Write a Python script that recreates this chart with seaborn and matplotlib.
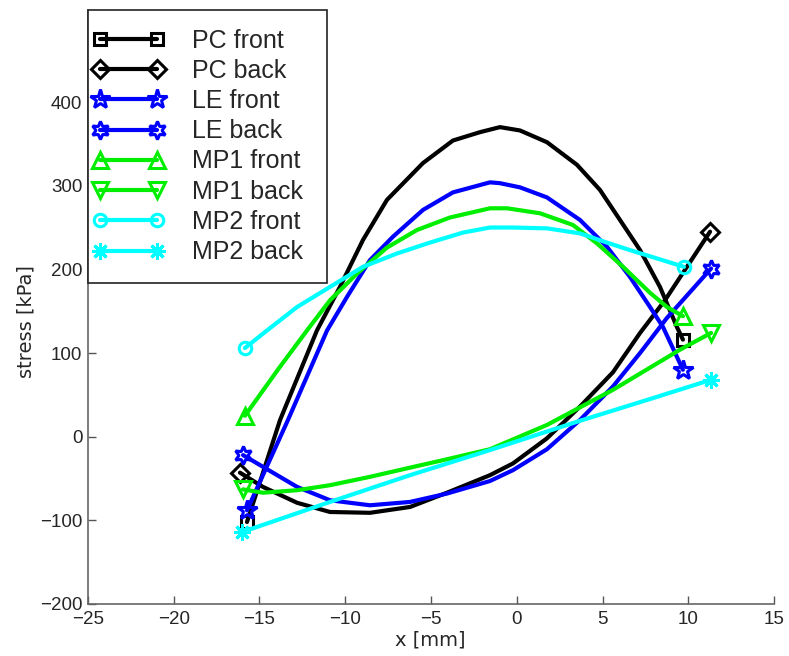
import numpy as np
import pandas as pd
import matplotlib
matplotlib.use("Agg")
import matplotlib.pyplot as plt
import seaborn as sns
from matplotlib.lines import Line2D
from matplotlib.patches import Rectangle

# ---------------- data ----------------
pc_front_x = [-15.73, -13.8, -11.65, -10.31, -8.97, -7.57, -5.47, -3.72, -2.14, -0.98, 0.19, 1.76, 3.51, 4.85, 6.02, 7.19, 8.35, 9.34, 9.69]
pc_front_y = [-102, 20, 127, 179, 235, 283, 327, 354, 364, 370, 366, 352, 325, 295, 259, 223, 179, 131, 116]

pc_back_x = [-16.14, -14.80, -12.81, -10.89, -8.56, -6.22, -4.07, -1.56, -0.22, 1.76, 3.69, 5.61, 7.19, 8.64, 11.27]
pc_back_y = [-43, -60, -79, -90, -91, -84, -67, -46, -32, -2, 36, 77, 124, 163, 245]

le_front_x = [-15.73, -13.34, -11.06, -9.90, -8.56, -7.22, -5.47, -3.72, -1.56, -0.98, 0.19, 1.76, 3.69, 5.26, 6.60, 7.77, 8.53, 9.69]
le_front_y = [-88, 20, 127, 167, 211, 239, 271, 292, 304, 303, 298, 286, 259, 227, 191, 155, 131, 80]

le_back_x = [-15.96, -14.80, -12.81, -10.89, -8.56, -6.22, -4.07, -1.56, -0.22, 1.76, 3.69, 5.61, 7.19, 8.76, 11.33]
le_back_y = [-22, -36, -60, -76, -82, -78, -68, -53, -40, -15, 20, 60, 100, 142, 201]

mp1_front_x = [-15.85, -13.86, -12.23, -10.89, -9.31, -7.57, -5.82, -3.89, -1.56, -0.57, 1.36, 3.28, 4.68, 6.20, 7.77, 8.76, 9.69]
mp1_front_y = [25, 82, 127, 163, 195, 226, 247, 262, 273, 273, 267, 253, 231, 203, 172, 155, 144]

mp1_back_x = [-15.96, -14.80, -12.81, -10.89, -8.56, -6.22, -4.07, -1.56, 1.76, 5.61, 9.52, 11.33]
mp1_back_y = [-63, -67, -64, -58, -48, -37, -27, -15, 14, 56, 104, 124]

mp2_front_x = [-15.85, -14.56, -12.81, -10.89, -8.97, -6.98, -5.06, -3.13, -1.56, -0.22, 1.76, 3.69, 5.26, 6.60, 8.18, 9.75]
mp2_front_y = [106, 127, 155, 179, 203, 219, 232, 244, 250, 250, 249, 243, 232, 223, 213, 203]

mp2_back_x = [-16.02, -10.89, -6.22, -1.56, 3.69, 7.77, 11.33]
mp2_back_y = [-114, -78, -46, -16, 19, 45, 68]

labels = ["PC front", "PC back", "LE front", "LE back",
          "MP1 front", "MP1 back", "MP2 front", "MP2 back"]
xs = [pc_front_x, pc_back_x, le_front_x, le_back_x, mp1_front_x, mp1_back_x, mp2_front_x, mp2_back_x]
ys = [pc_front_y, pc_back_y, le_front_y, le_back_y, mp1_front_y, mp1_back_y, mp2_front_y, mp2_back_y]

x_ticks = [-25, -20, -15, -10, -5, 0, 5, 10, 15]
y_ticks = [-200, -100, 0, 100, 200, 300, 400]

# ---------------- styles ----------------
colors = ["#000000", "#000000", "#0000ff", "#0000ff", "#00ee00", "#00ee00", "#00ffff", "#00ffff"]
markers = ["s", "D", "*", (6, 1, 0), "^", "v", "o", (8, 2, 0)]
msizes = [8, 9, 15, 13, 11, 11, 9, 12]

sns.set_theme(style="white")
plt.rcParams["font.family"] = ["Liberation Sans", "DejaVu Sans"]

W, H = 789, 656
fig = plt.figure(figsize=(W / 100, H / 100), dpi=100)
AX_L, AX_R, AX_T, AX_B = 88, 774, 10, 604
ax = fig.add_axes([AX_L / W, (H - AX_B) / H, (AX_R - AX_L) / W, (AX_B - AX_T) / H])


def ax_x(px):
    return (px - AX_L) / (AX_R - AX_L)


def ax_y(py):
    return (AX_B - py) / (AX_B - AX_T)


handles = []
for x, y, lab, c, m, ms in zip(xs, ys, labels, colors, markers, msizes):
    df = pd.DataFrame({"x": x, "y": y})
    sns.lineplot(data=df, x="x", y="y", ax=ax, sort=False, estimator=None,
                 color=c, linewidth=3, marker=m, markersize=ms,
                 markerfacecolor="none", markeredgecolor=c, markeredgewidth=2.2,
                 markevery=[0, len(x) - 1], legend=False,
                 solid_joinstyle="round", solid_capstyle="round")
    handles.append(Line2D([0], [0], color=c, lw=3, marker=m, markersize=ms,
                          markerfacecolor="none", markeredgecolor=c,
                          markeredgewidth=2.2, label=lab))

ax.set_xlim(-25, 15)
ax.set_ylim(-200, 510)
ax.set_xticks(x_ticks)
ax.set_yticks(y_ticks)
ax.set_xticklabels([str(t).replace("-", "\u2212") for t in x_ticks])
ax.set_yticklabels([str(t).replace("-", "\u2212") for t in y_ticks])
ax.tick_params(direction="in", length=6, width=1, color="#555555",
               labelsize=13.5, bottom=True, left=True)
ax.tick_params(axis="x", pad=5)
ax.tick_params(axis="y", pad=4)
for s in ["top", "right"]:
    ax.spines[s].set_visible(False)
for s in ["left", "bottom"]:
    ax.spines[s].set_color("#666666")
    ax.spines[s].set_linewidth(1.2)

ax.set_xlabel("x [mm]", fontsize=14, family=["DejaVu Sans"])
ax.set_ylabel("stress [kPa]", fontsize=14, family=["DejaVu Sans"])
ax.xaxis.set_label_coords(ax_x(430), ax_y(630))
ax.yaxis.set_label_coords(ax_x(36), ax_y(322))

# legend frame drawn as a box, entries placed inside it
frame = Rectangle((ax_x(88), ax_y(283)), ax_x(327) - ax_x(88), ax_y(10) - ax_y(283),
                  transform=ax.transAxes, facecolor="white", edgecolor="#222222",
                  linewidth=1.2, zorder=4.5, clip_on=False)
ax.add_patch(frame)
leg = ax.legend(handles=handles, loc="upper left",
                bbox_to_anchor=(ax_x(92.5), ax_y(28.5)),
                borderaxespad=0, borderpad=0, fontsize=18, labelspacing=0.25,
                handlelength=2.88, handletextpad=1.1,
                numpoints=2, frameon=False)
leg.set_zorder(5)

fig.savefig("out.png", dpi=100, facecolor="white")
